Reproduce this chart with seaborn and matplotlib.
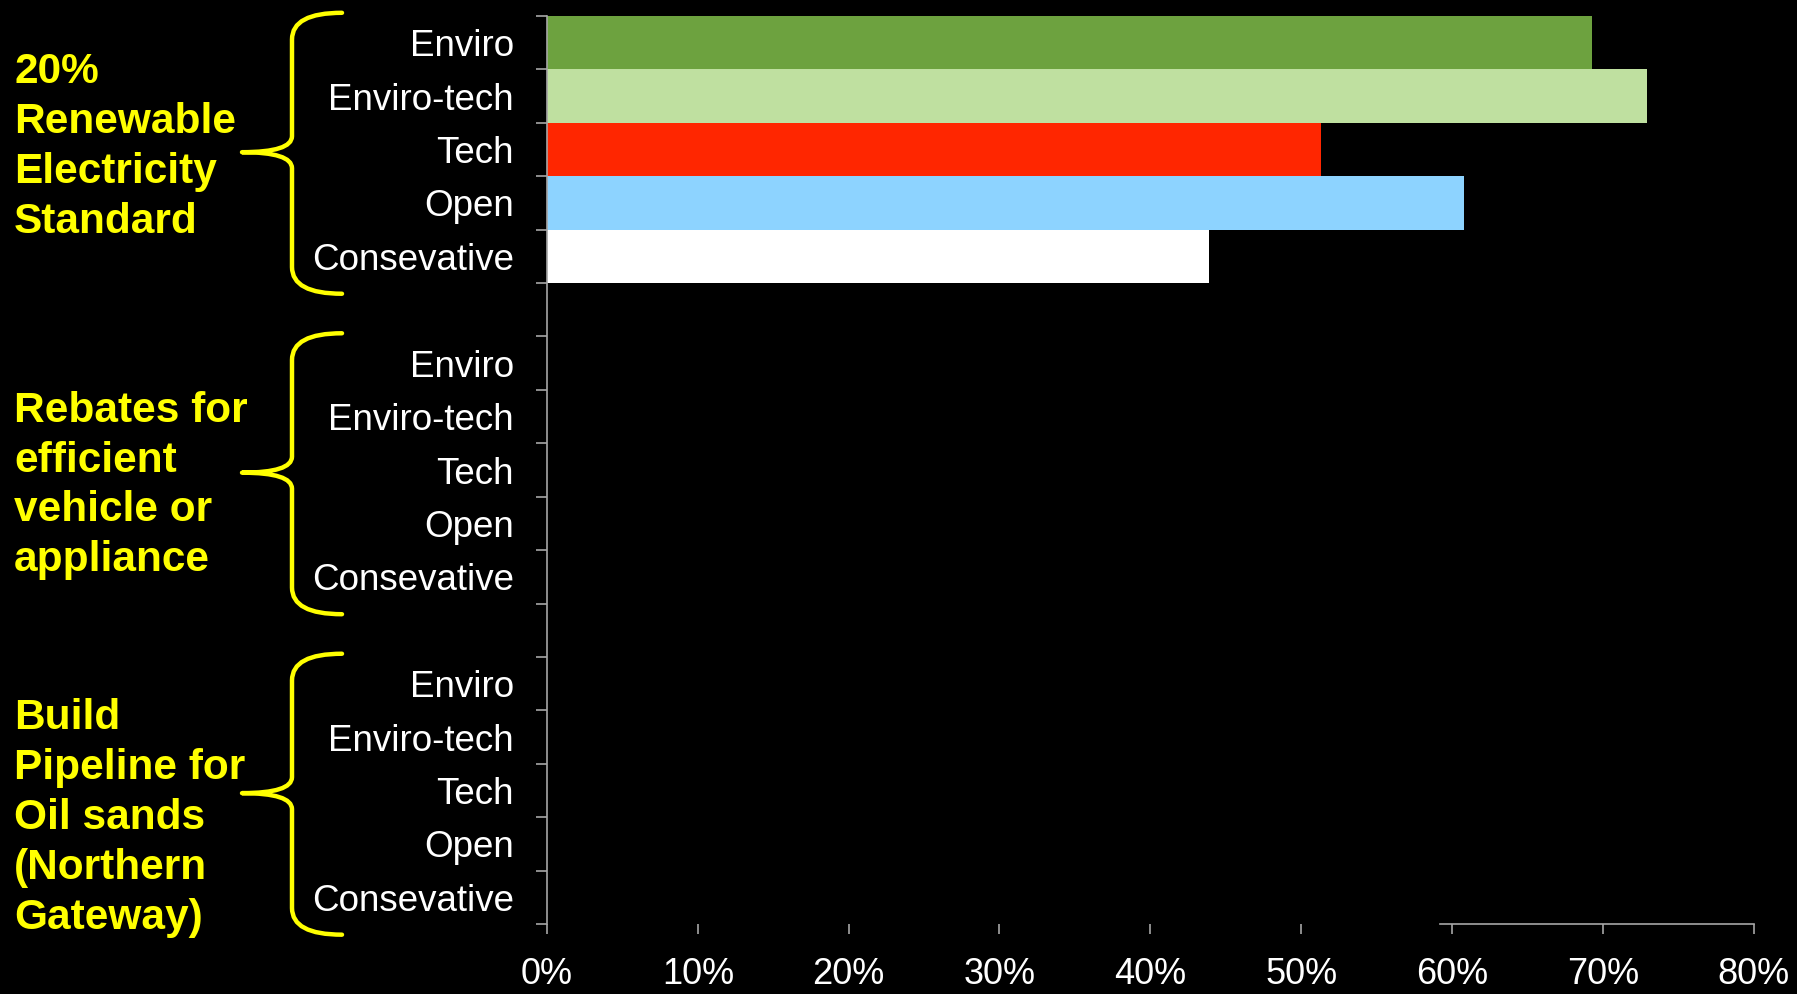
import numpy as np
import pandas as pd
import seaborn as sns
import matplotlib.pyplot as plt
import matplotlib.transforms as mtransforms
from matplotlib.path import Path
from matplotlib.patches import PathPatch
from matplotlib.ticker import FixedLocator

# ---------------- data ----------------
parties = ["Enviro", "Enviro-tech", "Tech", "Open", "Consevative"]
policies = [
    "20%\nRenewable\nElectricity\nStandard",
    "Rebates for\nefficient\nvehicle or\nappliance",
    "Build\nPipeline for\nOil sands\n(Northern\nGateway)",
]
renewable_support = [0.693, 0.729, 0.513, 0.608, 0.439]
rebates_support = [0.0, 0.0, 0.0, 0.0, 0.0]
pipeline_support = [0.0, 0.0, 0.0, 0.0, 0.0]
party_colors = ["#6DA23F", "#BFE0A0", "#FF2600", "#8DD3FF", "#FFFFFF"]
x_ticks = [0.0, 0.1, 0.2, 0.3, 0.4, 0.5, 0.6, 0.7, 0.8]
x_tick_labels = ["0%", "10%", "20%", "30%", "40%", "50%", "60%", "70%", "80%"]

# ---------------- layout ----------------
GROUP_STEP = 6  # 5 bars + one empty slot
label_y_offsets = [1.95, 2.29, 2.52]   # vertical centre of each group label (in slots)

rows = []
for g, vals in enumerate([renewable_support, rebates_support, pipeline_support]):
    for i, (p, v) in enumerate(zip(parties, vals)):
        rows.append({"slot": g * GROUP_STEP + i, "party": p, "value": v,
                     "policy": policies[g]})
df = pd.DataFrame(rows)

sns.set_theme(style="ticks")
plt.rcParams["font.family"] = ["Liberation Sans", "DejaVu Sans"]

W, H = 1797, 994
fig = plt.figure(figsize=(W / 100, H / 100), dpi=100, facecolor="black")
ax = fig.add_axes([547 / W, 1 - 924 / H, (1753.6 - 547) / W, (924 - 16) / H])
ax.set_facecolor("black")

sns.barplot(data=df, x="value", y="slot", hue="party", hue_order=parties,
            palette=party_colors, saturation=1, orient="h", native_scale=True,
            width=1.0, dodge=False, linewidth=0, errorbar=None, legend=False,
            ax=ax)

n_slots = len(policies) * GROUP_STEP - 1
ax.set_ylim(n_slots - 0.5, -0.5)
ax.set_xlim(0, 0.8)
ax.set_xlabel("")
ax.set_ylabel("")

grey = "#A6A6A6"
for s in ["top", "right"]:
    ax.spines[s].set_visible(False)
for s in ["left", "bottom"]:
    ax.spines[s].set_color(grey)
    ax.spines[s].set_linewidth(1.2)
ax.spines["bottom"].set_bounds(0.592, 0.8)

ax.set_yticks(df["slot"].tolist(), df["party"].tolist())
ax.yaxis.set_minor_locator(FixedLocator(np.arange(-0.5, n_slots, 1.0)))
ax.tick_params(axis="y", which="major", length=0, pad=24, labelsize=26.5,
               labelcolor="white")
for lab in ax.get_yticklabels():
    lab.set_verticalalignment("center_baseline")
ax.tick_params(axis="y", which="minor", length=8, width=1.2, color=grey,
               direction="out")

ax.set_xticks(x_ticks, x_tick_labels)
ax.tick_params(axis="x", which="major", length=7, width=1.2, color=grey,
               direction="out", pad=17, labelsize=26, labelcolor="white")

# ---------------- braces and group labels ----------------
trans = mtransforms.blended_transform_factory(fig.transFigure, ax.transData)
x_end, x_vert, x_tip = 342 / W, 292 / W, 242 / W
yellow = "#FFFF00"
for g, policy in enumerate(policies):
    s = g * GROUP_STEP
    top, mid, bot = s - 0.56, s + 2.05, s + 4.7
    verts = [
        (x_end, top), (x_vert, top), (x_vert, top + 0.5),
        (x_vert, mid - 0.3),
        (x_vert, mid), (x_tip, mid),
        (x_vert, mid), (x_vert, mid + 0.3),
        (x_vert, bot - 0.5),
        (x_vert, bot), (x_end, bot),
    ]
    codes = [Path.MOVETO, Path.CURVE3, Path.CURVE3,
             Path.LINETO,
             Path.CURVE3, Path.CURVE3,
             Path.CURVE3, Path.CURVE3,
             Path.LINETO,
             Path.CURVE3, Path.CURVE3]
    patch = PathPatch(Path(verts, codes), transform=trans, fill=False,
                      edgecolor=yellow, linewidth=3.2, clip_on=False,
                      capstyle="round", joinstyle="round")
    fig.add_artist(patch)
    fig.text(14 / W, s + label_y_offsets[g], policy, transform=trans,
             ha="left", va="center", multialignment="left", color=yellow,
             fontsize=30.5, fontweight="bold", linespacing=1.32)

fig.savefig("out.png", dpi=100, facecolor="black")
